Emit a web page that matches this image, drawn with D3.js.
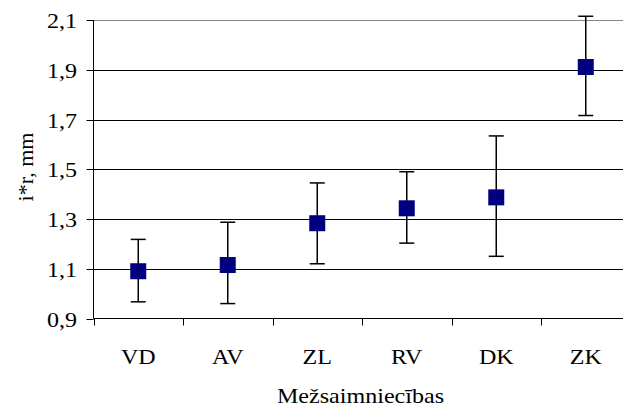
<!DOCTYPE html>
<html>
<head>
<meta charset="utf-8">
<script src="https://cdnjs.cloudflare.com/ajax/libs/d3/7.8.5/d3.min.js"></script>
<style>
  body { margin: 0; background: #fff; }
  svg { display: block; }
  text { font-family: "Liberation Serif", "Times New Roman", Times, serif; fill: #000; }
</style>
</head>
<body>
<svg></svg>
<script>
// data
var categories = ["VD", "AV", "ZL", "RV", "DK", "ZK"];
var means = [1.09, 1.115, 1.283, 1.343, 1.387, 1.911];
var upper = [1.218, 1.287, 1.445, 1.490, 1.634, 2.115];
var lower = [0.967, 0.960, 1.120, 1.203, 1.150, 1.716];
var yTicks = [0.9, 1.1, 1.3, 1.5, 1.7, 1.9, 2.1];

var width = 623, height = 407;
var svg = d3.select("svg").attr("width", width).attr("height", height);

// the original is stretched a bit sideways, so the text is too
var fontSize = 21.5, stretch = 1.12;

// plot area runs past the right edge, like the cropped original
var x = d3.scaleBand().domain(categories).range([93.5, 630.5]).padding(0);
var y = d3.scaleLinear().domain([0.9, 2.1]).range([318.5, 20]);

var fmt = function(d) { return d3.format(".1f")(d).replace(".", ","); };
var px = function(v) { return Math.round(v) + 0.5; };

function label(g, tx, ty, anchor, str) {
  return g.append("text")
      .attr("transform", "translate(" + tx + "," + ty + ") scale(" + stretch + ",1)")
      .attr("text-anchor", anchor)
      .attr("font-size", fontSize + "px")
      .text(str);
}

// gridlines
svg.append("g").selectAll("line")
    .data(yTicks.slice(1))
  .enter().append("line")
    .attr("x1", 93.5).attr("x2", 630.5)
    .attr("y1", function(d) { return px(y(d)); })
    .attr("y2", function(d) { return px(y(d)); })
    .attr("stroke", function(d) { return d == 2.1 ? "#888" : "#000"; })
    .attr("stroke-width", 1);

// y axis
var yAxis = svg.append("g");
yAxis.append("line")
    .attr("x1", 93.5).attr("x2", 93.5)
    .attr("y1", y(2.1)).attr("y2", y(0.9))
    .attr("stroke", "#000");
yTicks.forEach(function(t) {
  yAxis.append("line")
      .attr("x1", 86.5).attr("x2", 93.5)
      .attr("y1", px(y(t))).attr("y2", px(y(t)))
      .attr("stroke", "#000");
  label(yAxis, 77, y(t) + 8, "end", fmt(t));
});

// x axis with ticks between categories
var xAxis = svg.append("g").attr("transform", "translate(0,318.5)");
xAxis.append("line").attr("x1", 93.5).attr("x2", 630.5).attr("stroke", "#000");
categories.forEach(function(c) {
  xAxis.append("line")
      .attr("x1", px(x(c))).attr("x2", px(x(c)))
      .attr("y1", 0).attr("y2", 7)
      .attr("stroke", "#000");
  label(xAxis, x(c) + x.bandwidth() / 2, 45, "middle", c);
});

// error bars
var pts = categories.map(function(c, i) {
  return {cat: c, mean: means[i], hi: upper[i], lo: lower[i]};
});
var cx = function(d) { return x(d.cat) + x.bandwidth() / 2; };

var bars = svg.append("g").selectAll("g")
    .data(pts)
  .enter().append("g")
    .attr("stroke", "#000")
    .attr("stroke-width", 1.5);
bars.append("line")
    .attr("x1", cx).attr("x2", cx)
    .attr("y1", function(d) { return y(d.hi); })
    .attr("y2", function(d) { return y(d.lo); });
bars.append("line")
    .attr("x1", function(d) { return cx(d) - 7.5; })
    .attr("x2", function(d) { return cx(d) + 7.5; })
    .attr("y1", function(d) { return y(d.hi); })
    .attr("y2", function(d) { return y(d.hi); });
bars.append("line")
    .attr("x1", function(d) { return cx(d) - 7.5; })
    .attr("x2", function(d) { return cx(d) + 7.5; })
    .attr("y1", function(d) { return y(d.lo); })
    .attr("y2", function(d) { return y(d.lo); });

// markers
svg.append("g").selectAll("rect")
    .data(pts)
  .enter().append("rect")
    .attr("x", function(d) { return cx(d) - 8; })
    .attr("y", function(d) { return y(d.mean) - 8; })
    .attr("width", 16).attr("height", 16)
    .attr("fill", "#000080");

// axis titles
label(svg, 360.5, 403, "middle", "Mežsaimniecības");

svg.append("text")
    .attr("transform", "translate(33,167) rotate(-90)")
    .attr("text-anchor", "middle")
    .attr("font-size", "22px")
    .text("i*r, mm");
</script>
</body>
</html>
